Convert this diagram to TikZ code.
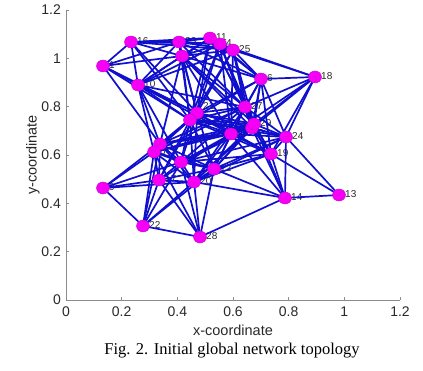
\documentclass[tikz,border=0pt]{standalone}
\usepackage{fontspec}
\setmainfont{Liberation Serif}
\setsansfont{Liberation Sans}
\usetikzlibrary{shapes.geometric}
\pgfdeclarelayer{labl}
\pgfdeclarelayer{edgl}
\pgfsetlayers{labl,edgl,main}
\definecolor{edgeblue}{RGB}{15,15,205}
\definecolor{nodemag}{RGB}{245,0,245}
\definecolor{nodeedge}{RGB}{200,0,210}
\definecolor{axgray}{RGB}{140,140,140}
\definecolor{txtgray}{RGB}{40,40,40}
\def\nodelist{1/103/66,2/252/128,3/160/144,4/220/44,5/182/56,6/261/79,7/181/162,8/154/152,9/103/188,10/138/85,11/210/38,12/214/169,13/339/195,14/285/198,15/231/134,16/131/42,17/159/180,18/315/77,19/271/154,20/194/182,21/197/113,22/143/226,23/179/42,24/286/137,25/233/50,26/190/120,27/245/107,28/200/237,29/254/124}
\begin{document}
\begin{tikzpicture}[x=1pt,y=1pt,
  vtx/.style={ellipse,fill=nodemag,draw=nodeedge,line width=0.4pt,minimum width=13pt,minimum height=12pt,inner sep=0pt},
  edge/.style={draw=edgeblue,line width=1.7pt},
  lbl/.style={anchor=west,inner sep=0pt,font=\sffamily\fontsize{10}{10}\selectfont,text=txtgray},
  axis/.style={draw=axgray,line width=0.9pt},
  ticklab/.style={font=\sffamily\fontsize{14}{14}\selectfont,text=txtgray,inner sep=0pt},
  axlab/.style={font=\sffamily\fontsize{14.5}{14.5}\selectfont,text=txtgray,inner sep=0pt}]
\useasboundingbox (0,0) rectangle (423,371);
% axes
\draw[axis] (66,361) -- (66,71) -- (400,71);
\foreach \k/\t in {0/0,1/0.2,2/0.4,3/0.6,4/0.8,5/1,6/1.2}{
  \draw[axis] ({66+\k*55.667},71) -- ({66+\k*55.667},74);
  \draw[axis] (66,{71+\k*48.333}) -- (69,{71+\k*48.333});
  \node[ticklab,anchor=north] at ({66+\k*55.667},64) {\t};
  \node[ticklab,anchor=east] at (61,{71+\k*48.333}) {\t};
}
\node[axlab] (xl) at (233,41) {x-coordinate};
\node[axlab,rotate=90] (yl) at (33,216) {y-coordinate};
\node[font=\fontsize{16.5}{16.5}\selectfont,inner sep=0pt] (cap) at (232,20) {Fig. 2. Initial global network topology};
% vertices
\foreach \i/\px/\py in \nodelist {
  \node[vtx] (n\i) at (\px,{371-\py}) {};
}
% labels
\begin{pgfonlayer}{labl}
\foreach \i/\px/\py in \nodelist {
  \ifnum\i=2
    \node[lbl] (t\i) at ({\px+6},{366-\py}) {\i};
  \else\ifnum\i=21
    \node[lbl] (t\i) at ({\px+6},{378-\py}) {\i};
  \else\ifnum\i=26
    \node[lbl] (t\i) at ({\px+6},{369-\py}) {\i};
  \else
    \node[lbl] (t\i) at ({\px+6},{372-\py}) {\i};
  \fi\fi\fi
}
\end{pgfonlayer}
% edges: pairs closer than the communication radius
\begin{pgfonlayer}{edgl}
\foreach \i/\xi/\yi in \nodelist {
  \foreach \j/\xj/\yj in \nodelist {
    \ifnum\j>\i
      \pgfmathtruncatemacro\ok{((\xi-\xj)/278.5)^2+((\yi-\yj)/241.7)^2<0.156}
      \ifnum\ok=1
        \draw[edge] (n\i.center) -- (n\j.center);
      \fi
    \fi
  }
}
\end{pgfonlayer}
\end{tikzpicture}
\end{document}
